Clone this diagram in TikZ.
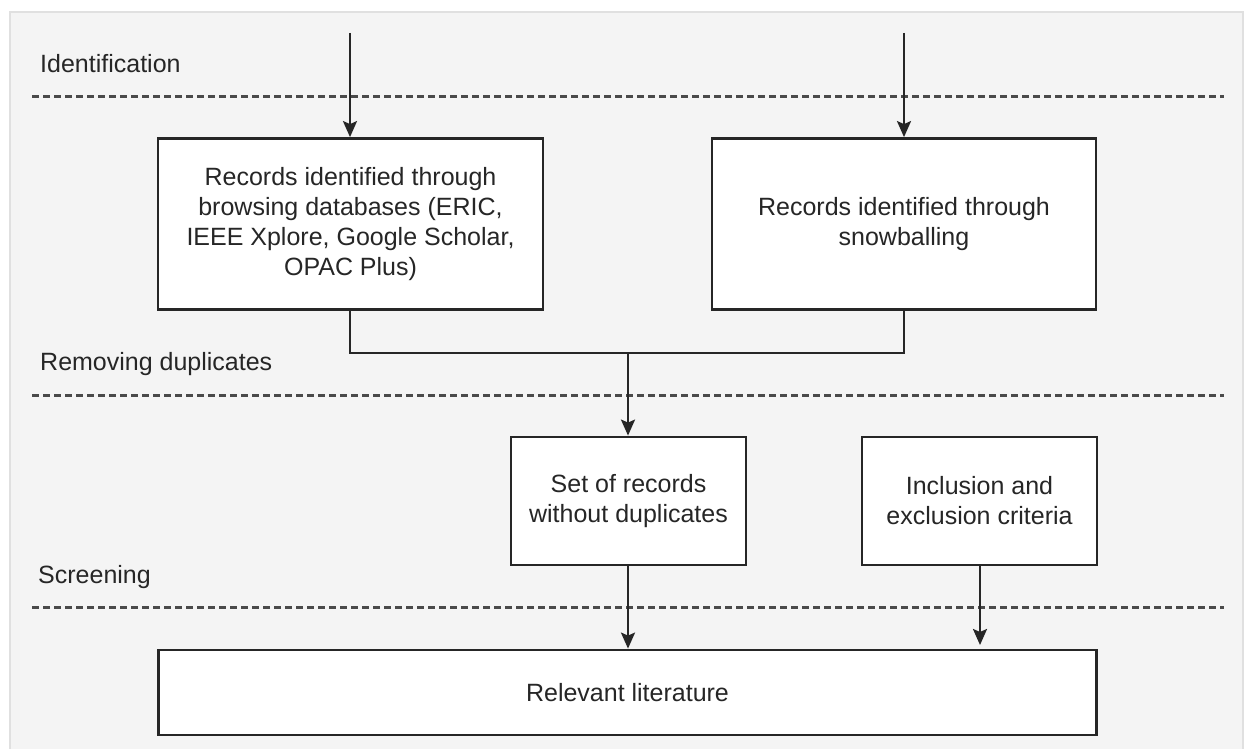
\documentclass[tikz,border=0pt]{standalone}
\usepackage{fontspec}
\setmainfont{Liberation Sans}
\usetikzlibrary{arrows.meta}
\definecolor{panelfill}{HTML}{F4F4F4}
\definecolor{panelline}{HTML}{E0E0E0}
\definecolor{ink}{HTML}{262626}
\definecolor{dashcol}{HTML}{4A4A4A}
\begin{document}
\begin{tikzpicture}[x=1pt,y=-1pt,
  stepbox/.style={draw=ink, line width=2.8pt, fill=white, align=center, inner sep=0pt,
    text=ink, font=\fontsize{25}{30}\selectfont},
  lanelabel/.style={anchor=base west, inner sep=0pt, text=ink, font=\fontsize{25}{30}\selectfont},
  sep/.style={draw=dashcol, line width=3pt, dash pattern=on 7pt off 4pt},
  arr/.style={draw=ink, line width=2.4pt, -{Stealth[length=16pt,width=14pt,inset=3pt]}},
  link/.style={draw=ink, line width=2.4pt}]
\useasboundingbox (0,0) rectangle (1244,749);
\fill[white] (0,0) rectangle (1244,749);
\begin{scope}
\clip (0,0) rectangle (1244,749);
\draw[panelline, line width=2pt, fill=panelfill] (10,12) rectangle (1243,770);
\end{scope}

% lane labels
\node[lanelabel] (lid) at (40,73) {Identification};
\node[lanelabel] (lrd) at (40,370) {Removing duplicates};
\node[lanelabel] (lsc) at (38,583) {Screening};

% separators
\draw[sep] (32,97) -- (1224,97);
\draw[sep] (32,395) -- (1224,395);
\draw[sep] (32,607) -- (1224,607);

% boxes
\node[stepbox, minimum width=385pt, minimum height=171pt] (lb) at (350.5,224)
  {Records identified through\\browsing databases (ERIC,\\IEEE Xplore, Google Scholar,\\OPAC Plus)};
\node[stepbox, minimum width=384pt, minimum height=171pt] (rb) at (904,224)
  {Records identified through\\snowballing};
\node[stepbox, minimum width=235pt, minimum height=128pt] (mid) at (628.5,501)
  {Set of records\\without duplicates};
\node[stepbox, minimum width=235pt, minimum height=128pt] (inc) at (979.5,501)
  {Inclusion and\\exclusion criteria};
\node[stepbox, minimum width=938pt, minimum height=85pt] (rel) at (627.5,692.5)
  {Relevant literature};

% connectors
\coordinate (s1) at (350,33);
\coordinate (s2) at (904,33);
\coordinate (j) at (628,353);
\coordinate (e) at (980,645);
\draw[arr] (s1) -- (lb.north -| s1);
\draw[arr] (s2) -- (rb.north);
\draw[link] (lb.south -| s1) |- (j) -| (rb.south);
\draw[arr] (j) -- (mid.north -| j);
\draw[arr] (mid.south -| j) -- (rel.north -| j);
\draw[arr] (inc.south -| e) -- (e);
\end{tikzpicture}
\end{document}
